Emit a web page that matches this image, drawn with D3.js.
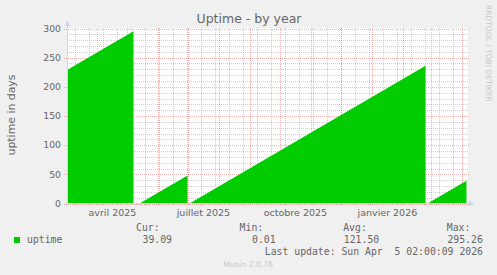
<!DOCTYPE html>
<html><head><meta charset="utf-8">
<script src="https://cdn.jsdelivr.net/npm/d3@7"></script>
<style>html,body{margin:0;padding:0;background:#F0F0F0}svg{display:block}</style>
</head><body>
<script>
// ---------- data ----------
const title = "Uptime - by year";
const yLabel = "uptime in days";
const endTime = "2026-04-05T02:00:09";
const spanDays = 400;
// uptime samples (null = no data / reset gap)
const times = ["2025-03-01T02:00:09","2025-05-07T02:00:00","2025-05-10T00:00:00","2025-05-13T02:00:00","2025-06-30T02:00:00","2025-07-01T02:00:00","2025-07-02T02:00:00","2026-02-23T02:00:00","2026-02-24T02:00:00","2026-02-25T02:00:00","2026-04-05T02:00:09"];
const values = [228.26, 295.26, null, 0.01, 48.0, null, 0.01, 236.3, null, 0.01, 39.09];
const yTicks = [0, 50, 100, 150, 200, 250, 300];
const xLabelDates = ["2025-04-01T00:00:00","2025-07-01T00:00:00","2025-10-01T00:00:00","2026-01-01T00:00:00"];
const xLabels = ["avril 2025","juillet 2025","octobre 2025","janvier 2026"];
const legendName = "uptime";
const legendHeaders = ["Cur:","Min:","Avg:","Max:"];
const legendValues = ["39.09","0.01","121.50","295.26"];
const lastUpdate = "Last update: Sun Apr  5 02:00:09 2026";
const footer = "Munin 2.0.76";
const watermark = "RRDTOOL / TOBI OETIKER";

// ---------- setup ----------
const W = 497, H = 275;
const parse = d3.utcParse("%Y-%m-%dT%H:%M:%S");
const end = parse(endTime);
const start = d3.utcDay.offset(end, -spanDays);
const data = times.map((t, i) => ({t: parse(t), v: values[i]}));

const L = 67, R = 467, T = 28, B = 203;
const x = d3.scaleUtc().domain([start, end]).range([66.5, 466.5]);
const y = d3.scaleLinear().domain([0, 300]).range([B + 0.5, T + 0.5]);

const svg = d3.select("body").append("svg").attr("width", W).attr("height", H);
svg.append("rect").attr("width", W).attr("height", H).attr("fill", "#F0F0F0");
svg.append("rect").attr("x", L).attr("y", T).attr("width", R - L + 1).attr("height", B - T).attr("fill", "#FFFFFF");

svg.append("defs").append("clipPath").attr("id", "clip")
  .append("rect").attr("x", L).attr("y", T).attr("width", R - L).attr("height", B - T + 0.5);

// grid (drawn below the area)
const minorCol = "rgba(150,150,150,0.45)", majorCol = "rgba(222,79,79,0.42)";
const g = svg.append("g");
const px = v => Math.round(v) + 0.5;
const ySub = d3.range(0, 301, 10).filter(v => v % 50 !== 0);
g.selectAll(".hmin").data(ySub).join("line")
  .attr("x1", L).attr("x2", R + 2).attr("y1", d => px(y(d))).attr("y2", d => px(y(d)))
  .attr("stroke", minorCol).attr("stroke-dasharray", "1,1");
const weeks = d3.utcMonday.range(d3.utcMonday.floor(start), end, 2).filter(d => d > start);
g.selectAll(".vmin").data(weeks).join("line")
  .attr("x1", d => px(x(d))).attr("x2", d => px(x(d))).attr("y1", T).attr("y2", B + 2)
  .attr("stroke", minorCol).attr("stroke-dasharray", "1,1");
const months = d3.utcMonth.range(d3.utcMonth.ceil(start), end);
g.selectAll(".vmaj").data(months).join("line")
  .attr("x1", d => px(x(d))).attr("x2", d => px(x(d))).attr("y1", T).attr("y2", B + 3)
  .attr("stroke", majorCol).attr("stroke-dasharray", "1,1");
g.selectAll(".hmaj").data(yTicks).join("line")
  .attr("x1", L - 3).attr("x2", R + 2).attr("y1", d => px(y(d))).attr("y2", d => px(y(d)))
  .attr("stroke", majorCol).attr("stroke-dasharray", "1,1");

// area
const area = d3.area()
  .defined(d => d.v !== null)
  .x(d => x(d.t)).y0(y(0)).y1(d => y(d.v));
svg.append("path").datum(data).attr("clip-path", "url(#clip)")
  .attr("d", area).attr("fill", "#00CC00");

// axes (munin colour)
const axCol = "#CFD6F8";
svg.append("line").attr("x1", L + 0.5).attr("x2", L + 0.5).attr("y1", B + 2).attr("y2", 24).attr("stroke", axCol);
svg.append("line").attr("x1", L - 2).attr("x2", 470).attr("y1", B + 0.5).attr("y2", B + 0.5).attr("stroke", axCol);
svg.append("path").attr("d", `M${L + 0.5},20.5 L${L - 2.5},26 L${L + 3.5},26 Z`).attr("fill", axCol);
svg.append("path").attr("d", `M474,${B + 0.5} L469,${B - 2.5} L469,${B + 3.5} Z`).attr("fill", axCol);

// y tick labels
const font = "DejaVu Sans", mono = "DejaVu Sans Mono", fc = "#666666";
svg.append("g").selectAll("text").data(yTicks).join("text")
  .attr("x", 61).attr("y", d => y(d) + 3.3).attr("text-anchor", "end")
  .attr("font-family", font).attr("font-size", 9.3).attr("fill", fc).text(d => d);

// x labels (centred mid-month as rrdtool does)
svg.append("g").selectAll("text").data(xLabelDates).join("text")
  .attr("x", d => x(d3.utcDay.offset(parse(d), 15))).attr("y", 215.5).attr("text-anchor", "middle")
  .attr("font-family", font).attr("font-size", 9.5).attr("fill", fc).text((d, i) => xLabels[i]);

// title
svg.append("text").attr("x", 249).attr("y", 23).attr("text-anchor", "middle")
  .attr("font-family", font).attr("font-size", 12.5).attr("fill", fc).text(title);

// y title
svg.append("text").attr("transform", "translate(15,115) rotate(-90)").attr("text-anchor", "middle")
  .attr("font-family", font).attr("font-size", 10.9).attr("fill", fc).text(yLabel);

// watermark
svg.append("text").attr("transform", "translate(485.5,5) rotate(90)").attr("text-anchor", "start")
  .attr("font-family", font).attr("font-size", 7.5).attr("fill", "#C8C8C8").text(watermark);

// legend
svg.append("rect").attr("x", 14).attr("y", 237).attr("width", 6).attr("height", 6).attr("fill", "#00CC00");
svg.append("text").attr("x", 27).attr("y", 243).attr("font-family", mono).attr("font-size", 9.8).attr("fill", fc).text(legendName);
const colX = [136, 239.6, 343.2, 446.8];
svg.append("g").selectAll("text").data(legendHeaders).join("text")
  .attr("x", (d, i) => colX[i]).attr("y", 231).attr("font-family", mono).attr("font-size", 9.8).attr("fill", fc)
  .text(d => d);
svg.append("g").selectAll("text").data(legendValues).join("text")
  .attr("x", (d, i) => colX[i] + 36).attr("y", 243).attr("text-anchor", "end").attr("font-family", mono).attr("font-size", 9.8).attr("fill", fc)
  .text(d => d);
svg.append("text").attr("x", 483).attr("y", 255).attr("text-anchor", "end").attr("font-family", mono).attr("font-size", 9.8).attr("fill", fc)
  .style("white-space", "pre").text(lastUpdate);
svg.append("text").attr("x", 248).attr("y", 267).attr("text-anchor", "middle").attr("font-family", font).attr("font-size", 7.6).attr("fill", "#C8C8C8").text(footer);
</script>
</body></html>
